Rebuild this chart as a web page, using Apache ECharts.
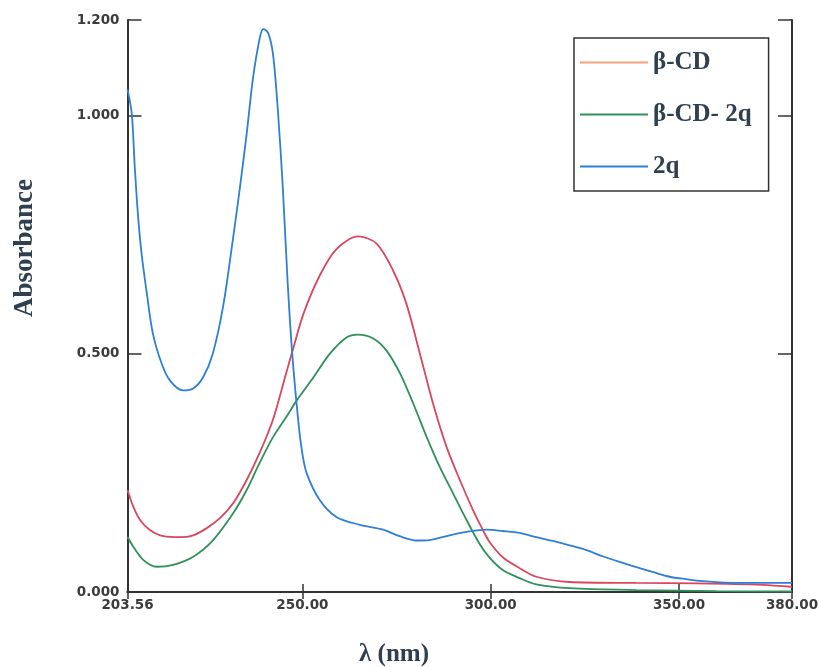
<!DOCTYPE html>
<html>
<head>
<meta charset="utf-8">
<script src="https://cdn.jsdelivr.net/npm/echarts@6/dist/echarts.min.js"></script>
<style>html,body{margin:0;padding:0;background:#fff;}#c{width:825px;height:667px;}</style>
</head>
<body>
<div id="c"></div>
<script>
// ---- data ----
var seriesNames = ['β-CD', 'β-CD- 2q', '2q'];
var xLimits = [203.56, 380];
var yLimits = [0, 1.2];

var betaCD_x = [203.56,205.1,206.9,209.5,213.1,217.5,221.0,224.6,228.1,231.6,235.2,238.7,242.2,245.8,247.6,250.2,254.6,259.1,264.8,269.7,274.1,277.6,281.2,284.7,288.3,291.8,295.3,297.6,299.7,303.2,307.7,312.1,321.0,338.7,355.0,372.2,380];
var betaCD_y = [0.214,0.179,0.151,0.130,0.117,0.115,0.119,0.134,0.155,0.186,0.235,0.293,0.362,0.462,0.512,0.582,0.664,0.720,0.746,0.731,0.674,0.605,0.500,0.395,0.304,0.235,0.172,0.135,0.105,0.073,0.050,0.032,0.021,0.019,0.018,0.015,0.011];

var betaCD2q_x = [203.56,205.1,207.8,211.3,215.7,221.0,226.3,231.6,235.2,238.7,242.2,245.8,248.5,252.9,257.3,261.7,264.8,268.8,272.3,275.9,279.4,283.0,286.5,290.0,293.6,297.1,299.7,303.2,307.7,312.1,321.0,338.7,360.0,380];
var betaCD2q_y = [0.116,0.095,0.067,0.053,0.057,0.074,0.109,0.165,0.214,0.272,0.325,0.368,0.402,0.450,0.500,0.534,0.540,0.532,0.507,0.459,0.396,0.325,0.262,0.207,0.151,0.100,0.072,0.046,0.029,0.016,0.008,0.004,0.002,0.001];

var q2_x = [203.56,204.7,205.5,206.4,207.3,208.7,210.3,212.6,214.8,218.3,221.0,223.6,226.2,228.9,231.5,233.4,235.2,236.9,238.7,239.6,240.9,242.2,243.5,244.8,246.1,247.3,248.8,249.8,251.1,254.6,259.1,265.2,271.4,275.8,280.3,283.8,289.1,293.6,298.9,303.2,307.7,312.1,316.5,320.9,325.4,329.7,334.2,338.7,343.0,347.5,351.9,356.3,365.2,372.0,380];
var q2_y = [1.055,1.003,0.890,0.785,0.710,0.626,0.542,0.480,0.444,0.423,0.427,0.450,0.500,0.597,0.737,0.848,0.961,1.079,1.163,1.181,1.173,1.128,1.009,0.848,0.647,0.500,0.367,0.300,0.250,0.193,0.157,0.141,0.131,0.117,0.108,0.109,0.119,0.126,0.131,0.128,0.124,0.115,0.107,0.098,0.088,0.075,0.063,0.052,0.042,0.032,0.027,0.023,0.019,0.019,0.019];

function pairs(xs, ys) { return xs.map(function (x, i) { return [x, ys[i]]; }); }

var chart = echarts.init(document.getElementById('c'), null, { renderer: 'canvas' });

var axisLineStyle = { color: '#333', width: 2 };
var tickFont = { color: '#3c3c3c', fontFamily: 'DejaVu Sans', fontWeight: 'bold', fontSize: 13.5 };
var serif = 'Liberation Serif';
var labelColor = '#2f3f4f';

chart.setOption({
  animation: false,
  backgroundColor: '#fff',
  grid: { left: 127.5, right: 33, top: 20, bottom: 75 },
  legend: {
    orient: 'vertical',
    left: 574, top: 38,
    borderColor: '#333', borderWidth: 1.5,
    padding: [12, 17, 12, 6],
    itemGap: 27,
    itemWidth: 68, itemHeight: 2,
    icon: 'rect',
    textStyle: { fontFamily: serif, fontWeight: 'bold', fontSize: 25, color: labelColor },
    data: [
      { name: seriesNames[0], itemStyle: { color: '#f2a27c' } },
      { name: seriesNames[1] },
      { name: seriesNames[2] }
    ]
  },
  xAxis: [
    {
      type: 'value', min: xLimits[0], max: xLimits[1], splitNumber: 4, position: 'bottom',
      axisLine: { lineStyle: axisLineStyle },
      axisTick: { inside: true, length: 8, lineStyle: { color: '#333', width: 1.5 } },
      splitLine: { show: false },
      axisLabel: Object.assign({ margin: 6, formatter: function (v) { return v.toFixed(2); } }, tickFont)
    },
    {
      type: 'value', min: xLimits[0], max: xLimits[1], splitNumber: 4, position: 'top',
      axisLine: { lineStyle: axisLineStyle },
      axisTick: { inside: true, length: 7, lineStyle: { color: '#333', width: 1.5 } },
      splitLine: { show: false },
      axisLabel: { show: false }
    }
  ],
  yAxis: [
    {
      type: 'value', min: yLimits[0], max: yLimits[1], interval: 0.5, position: 'left',
      axisLine: { show: true, lineStyle: axisLineStyle },
      axisTick: { show: true, inside: true, length: 14, lineStyle: { color: '#333', width: 1.5 } },
      splitLine: { show: false },
      axisLabel: Object.assign({ margin: 8, formatter: function (v) { return v.toFixed(3); } }, tickFont)
    },
    {
      type: 'value', min: yLimits[0], max: yLimits[1], interval: 0.5, position: 'right',
      axisLine: { show: true, lineStyle: axisLineStyle },
      axisTick: { show: true, inside: true, length: 14, lineStyle: { color: '#333', width: 1.5 } },
      splitLine: { show: false },
      axisLabel: { show: false }
    }
  ],
  graphic: [
    {
      type: 'text', x: 25, y: 248, rotation: Math.PI / 2,
      style: { text: 'Absorbance', font: 'bold 27px "Liberation Serif"', fill: labelColor, align: 'center', verticalAlign: 'middle' }
    },
    {
      type: 'text', x: 394, y: 655,
      style: { text: 'λ (nm)', font: 'bold 25px "Liberation Serif"', fill: labelColor, align: 'center', verticalAlign: 'middle' }
    }
  ],
  series: [
    {
      name: seriesNames[0], type: 'line', data: pairs(betaCD_x, betaCD_y),
      showSymbol: false, smooth: 0.3, color: '#d9475f', lineStyle: { width: 1.8, color: '#d9475f' }
    },
    {
      name: seriesNames[1], type: 'line', data: pairs(betaCD2q_x, betaCD2q_y),
      showSymbol: false, smooth: 0.3, color: '#2e9158', lineStyle: { width: 1.8, color: '#2e9158' }
    },
    {
      name: seriesNames[2], type: 'line', data: pairs(q2_x, q2_y),
      showSymbol: false, smooth: 0.3, color: '#2f7fd6', lineStyle: { width: 1.8, color: '#2f7fd6' }
    }
  ]
});
</script>
</body>
</html>
